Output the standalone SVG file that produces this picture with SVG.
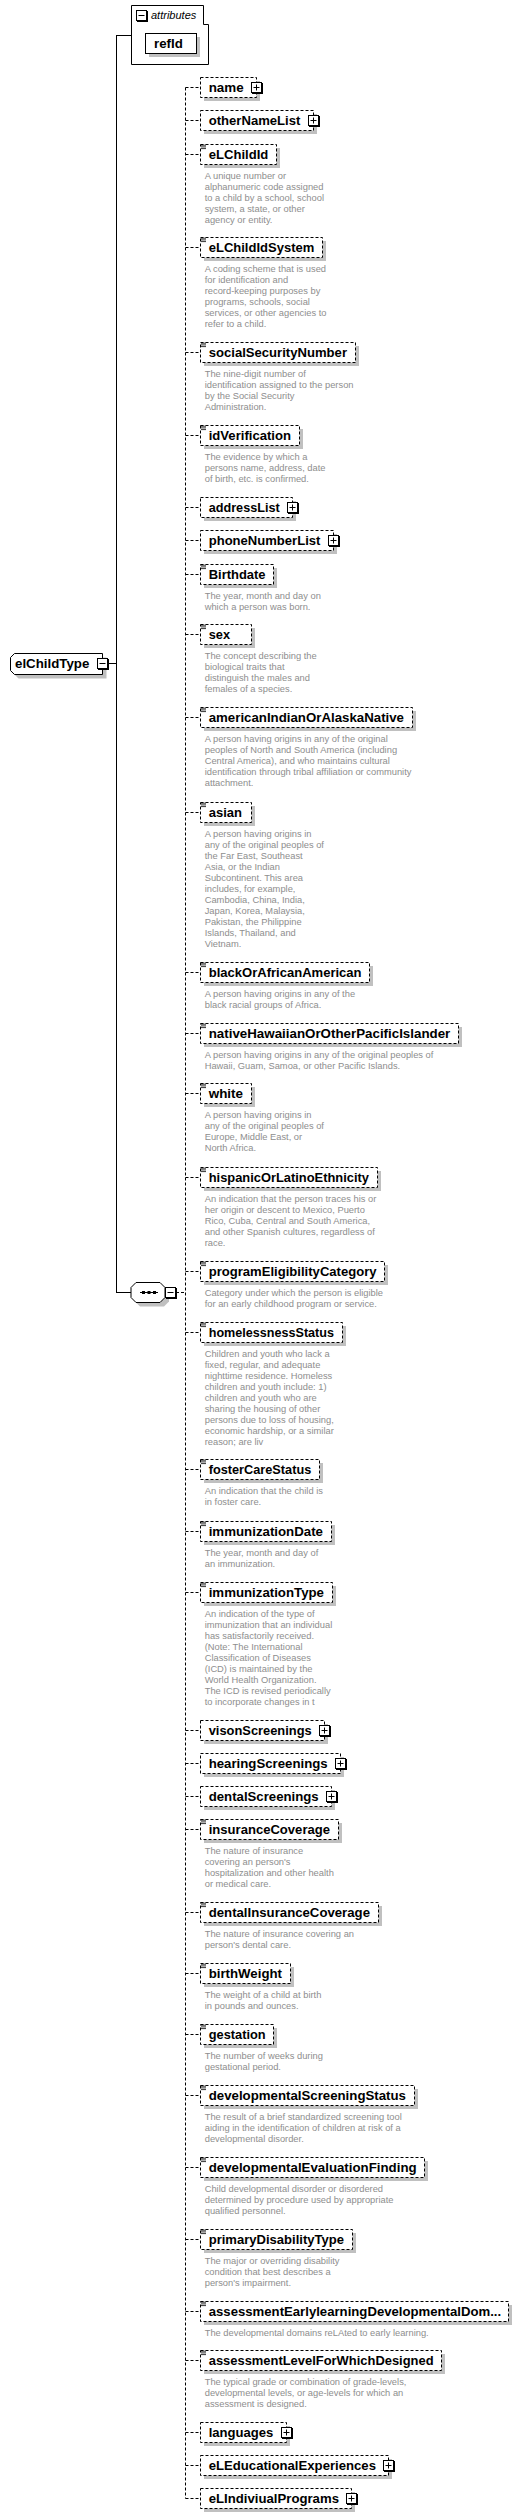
<svg xmlns="http://www.w3.org/2000/svg" width="524" height="2518" viewBox="0 0 524 2518">
<style>
.bx{fill:#fff;stroke:#000;stroke-width:1;stroke-dasharray:3,2}
.sb{fill:#fff;stroke:#000;stroke-width:1}
.sh{fill:#c0c0c0}
.lb{font-family:"Liberation Sans",Arial,sans-serif;font-weight:bold;font-size:13.3px;fill:#000}
.ds{font-family:"Liberation Sans",Arial,sans-serif;font-size:9.33px;fill:#8e8e8e}
.it{font-family:"Liberation Sans",Arial,sans-serif;font-style:italic;font-size:11px;fill:#000}
.cs{stroke:#000;stroke-width:1;fill:none}
.cd{stroke:#000;stroke-width:1;fill:none;stroke-dasharray:3,2}
</style>
<defs>
<g id="plus"><rect x="0.5" y="0.5" width="10" height="10" fill="#fff" stroke="#000"/><path d="M2.5 5.5h6M5.5 2.5v6M11.5 1v11M1 11.5h11" stroke="#000" fill="none"/></g>
<g id="minus"><rect x="0.5" y="0.5" width="10" height="10" fill="#fff" stroke="#000"/><path d="M2.5 5.5h6M11.5 1v11M1 11.5h11" stroke="#000" fill="none"/></g>
<g id="ann"><path d="M1 1.2h5M1 2.9h5M1 4.6h5" stroke="#000" stroke-width="0.8" fill="none"/></g>
</defs>

<g id="connectors">
<path class="cs" d="M116.5 35.5V1292.5M116 35.5h15M116 1292.5h15M108 663.5h8.5"/>
<path class="cd" d="M176 1292.5h9.5M185.5 87.5V2498.5"/>
<path class="cd" d="M185.5 87.5h15M185.5 120.5h15M185.5 154.5h15M185.5 247.5h15M185.5 352.5h15M185.5 435.5h15M185.5 507.5h15M185.5 540.5h15M185.5 574.5h15M185.5 634.5h15M185.5 717.5h15M185.5 812.5h15M185.5 972.5h15M185.5 1033.5h15M185.5 1093.5h15M185.5 1177.5h15M185.5 1271.5h15M185.5 1332.5h15M185.5 1469.5h15M185.5 1531.5h15M185.5 1592.5h15M185.5 1730.5h15M185.5 1763.5h15M185.5 1796.5h15M185.5 1829.5h15M185.5 1912.5h15M185.5 1973.5h15M185.5 2034.5h15M185.5 2095.5h15M185.5 2167.5h15M185.5 2239.5h15M185.5 2311.5h15M185.5 2360.5h15M185.5 2432.5h15M185.5 2465.5h15M185.5 2498.5h15"/>
</g>

<g id="elChildType">
<polygon class="sh" points="18.5,657.5 106.5,657.5 106.5,678.5 18.5,678.5 14.5,674.5 14.5,661.5"/>
<polygon class="sb" points="14.5,653.5 102.5,653.5 102.5,674.5 14.5,674.5 10.5,670.5 10.5,657.5"/>
<text class="lb" x="15" y="668" textLength="74.3" lengthAdjust="spacingAndGlyphs">elChildType</text>
<use href="#minus" x="97" y="658"/>
</g>

<g id="attributes">
<polygon class="sb" points="131.5,5.5 203.5,5.5 203.5,24.5 208.5,24.5 208.5,64.5 131.5,64.5"/>
<use href="#minus" x="136" y="10"/>
<text class="it" x="151" y="18.7">attributes</text>
</g>
<g id="refId">
<rect class="sh" x="149" y="37" width="51" height="20"/>
<rect class="sb" x="145.5" y="33.5" width="51" height="20"/>
<text class="lb" x="154" y="47.7">refId</text>
</g>

<g id="sequence">
<polygon class="sh" points="140,1286.5 164,1286.5 169,1291.5 169,1301.5 164,1306.5 140,1306.5 135,1301.5 135,1291.5"/>
<polygon class="sb" points="136,1282.5 160,1282.5 165,1287.5 165,1297.5 160,1302.5 136,1302.5 131,1297.5 131,1287.5"/>
<path d="M140 1292.5h18" stroke="#000"/>
<rect x="142" y="1291" width="3" height="3"/><rect x="147.5" y="1291" width="3" height="3"/><rect x="153" y="1291" width="3" height="3"/>
<use href="#minus" x="165" y="1287"/>
</g>

<g id="name"><rect class="sh" x="204" y="81" width="56" height="20"/><rect class="bx" x="200.5" y="77.5" width="56" height="20"/><text class="lb" x="208.7" y="91.8" textLength="35" lengthAdjust="spacingAndGlyphs">name</text><use href="#plus" x="251" y="82"/></g>
<g id="otherNameList"><rect class="sh" x="204" y="114" width="113" height="20"/><rect class="bx" x="200.5" y="110.5" width="113" height="20"/><text class="lb" x="208.7" y="124.8" textLength="91.7" lengthAdjust="spacingAndGlyphs">otherNameList</text><use href="#plus" x="308" y="115"/></g>

<g id="eLChildId"><rect class="sh" x="204" y="148" width="76" height="20"/><rect class="bx" x="200.5" y="144.5" width="76" height="20"/><use href="#ann" x="200" y="144"/><text class="lb" x="208.7" y="158.8" textLength="59.6" lengthAdjust="spacingAndGlyphs">eLChildId</text>
<text class="ds" x="204.7" y="179.3">A unique number or<tspan x="204.7" dy="11">alphanumeric code assigned</tspan><tspan x="204.7" dy="11">to a child by a school, school</tspan><tspan x="204.7" dy="11">system, a state, or other</tspan><tspan x="204.7" dy="11">agency or entity.</tspan></text></g>

<g id="eLChildIdSystem"><rect class="sh" x="204" y="241" width="122" height="20"/><rect class="bx" x="200.5" y="237.5" width="122" height="20"/><use href="#ann" x="200" y="237"/><text class="lb" x="208.7" y="251.8" textLength="105.6" lengthAdjust="spacingAndGlyphs">eLChildIdSystem</text>
<text class="ds" x="204.7" y="272.3">A coding scheme that is used<tspan x="204.7" dy="11">for identification and</tspan><tspan x="204.7" dy="11">record-keeping purposes by</tspan><tspan x="204.7" dy="11">programs, schools, social</tspan><tspan x="204.7" dy="11">services, or other agencies to</tspan><tspan x="204.7" dy="11">refer to a child.</tspan></text></g>

<g id="socialSecurityNumber"><rect class="sh" x="204" y="346" width="155" height="20"/><rect class="bx" x="200.5" y="342.5" width="155" height="20"/><use href="#ann" x="200" y="342"/><text class="lb" x="208.7" y="356.8" textLength="138.3" lengthAdjust="spacingAndGlyphs">socialSecurityNumber</text>
<text class="ds" x="204.7" y="377.3">The nine-digit number of<tspan x="204.7" dy="11">identification assigned to the person</tspan><tspan x="204.7" dy="11">by the Social Security</tspan><tspan x="204.7" dy="11">Administration.</tspan></text></g>

<g id="idVerification"><rect class="sh" x="204" y="429" width="99" height="20"/><rect class="bx" x="200.5" y="425.5" width="99" height="20"/><use href="#ann" x="200" y="425"/><text class="lb" x="208.7" y="439.8" textLength="82.3" lengthAdjust="spacingAndGlyphs">idVerification</text>
<text class="ds" x="204.7" y="460.3">The evidence by which a<tspan x="204.7" dy="11">persons name, address, date</tspan><tspan x="204.7" dy="11">of birth, etc. is confirmed.</tspan></text></g>

<g id="addressList"><rect class="sh" x="204" y="501" width="92" height="20"/><rect class="bx" x="200.5" y="497.5" width="92" height="20"/><text class="lb" x="208.7" y="511.8" textLength="71" lengthAdjust="spacingAndGlyphs">addressList</text><use href="#plus" x="287" y="502"/></g>
<g id="phoneNumberList"><rect class="sh" x="204" y="534" width="133" height="20"/><rect class="bx" x="200.5" y="530.5" width="133" height="20"/><text class="lb" x="208.7" y="544.8" textLength="111.7" lengthAdjust="spacingAndGlyphs">phoneNumberList</text><use href="#plus" x="328" y="535"/></g>

<g id="Birthdate"><rect class="sh" x="204" y="568" width="73" height="20"/><rect class="bx" x="200.5" y="564.5" width="73" height="20"/><use href="#ann" x="200" y="564"/><text class="lb" x="208.7" y="578.8" textLength="56.9" lengthAdjust="spacingAndGlyphs">Birthdate</text>
<text class="ds" x="204.7" y="599.3">The year, month and day on<tspan x="204.7" dy="11">which a person was born.</tspan></text></g>

<g id="sex"><rect class="sh" x="204" y="628" width="51" height="20"/><rect class="bx" x="200.5" y="624.5" width="51" height="20"/><use href="#ann" x="200" y="624"/><text class="lb" x="208.7" y="638.8" textLength="21.3" lengthAdjust="spacingAndGlyphs">sex</text>
<text class="ds" x="204.7" y="659.3">The concept describing the<tspan x="204.7" dy="11">biological traits that</tspan><tspan x="204.7" dy="11">distinguish the males and</tspan><tspan x="204.7" dy="11">females of a species.</tspan></text></g>

<g id="americanIndianOrAlaskaNative"><rect class="sh" x="204" y="711" width="212" height="20"/><rect class="bx" x="200.5" y="707.5" width="212" height="20"/><use href="#ann" x="200" y="707"/><text class="lb" x="208.7" y="721.8" textLength="195.3" lengthAdjust="spacingAndGlyphs">americanIndianOrAlaskaNative</text>
<text class="ds" x="204.7" y="742.3">A person having origins in any of the original<tspan x="204.7" dy="11">peoples of North and South America (including</tspan><tspan x="204.7" dy="11">Central America), and who maintains cultural</tspan><tspan x="204.7" dy="11">identification through tribal affiliation or community</tspan><tspan x="204.7" dy="11">attachment.</tspan></text></g>

<g id="asian"><rect class="sh" x="204" y="806" width="51" height="20"/><rect class="bx" x="200.5" y="802.5" width="51" height="20"/><use href="#ann" x="200" y="802"/><text class="lb" x="208.7" y="816.8" textLength="33.3" lengthAdjust="spacingAndGlyphs">asian</text>
<text class="ds" x="204.7" y="837.3">A person having origins in<tspan x="204.7" dy="11">any of the original peoples of</tspan><tspan x="204.7" dy="11">the Far East, Southeast</tspan><tspan x="204.7" dy="11">Asia, or the Indian</tspan><tspan x="204.7" dy="11">Subcontinent. This area</tspan><tspan x="204.7" dy="11">includes, for example,</tspan><tspan x="204.7" dy="11">Cambodia, China, India,</tspan><tspan x="204.7" dy="11">Japan, Korea, Malaysia,</tspan><tspan x="204.7" dy="11">Pakistan, the Philippine</tspan><tspan x="204.7" dy="11">Islands, Thailand, and</tspan><tspan x="204.7" dy="11">Vietnam.</tspan></text></g>

<g id="blackOrAfricanAmerican"><rect class="sh" x="204" y="966" width="169" height="20"/><rect class="bx" x="200.5" y="962.5" width="169" height="20"/><use href="#ann" x="200" y="962"/><text class="lb" x="208.7" y="976.8" textLength="152.9" lengthAdjust="spacingAndGlyphs">blackOrAfricanAmerican</text>
<text class="ds" x="204.7" y="997.3">A person having origins in any of the<tspan x="204.7" dy="11">black racial groups of Africa.</tspan></text></g>

<g id="nativeHawaiianOrOtherPacificIslander"><rect class="sh" x="204" y="1027" width="258" height="20"/><rect class="bx" x="200.5" y="1023.5" width="258" height="20"/><use href="#ann" x="200" y="1023"/><text class="lb" x="208.7" y="1037.8" textLength="241.6" lengthAdjust="spacingAndGlyphs">nativeHawaiianOrOtherPacificIslander</text>
<text class="ds" x="204.7" y="1058.3">A person having origins in any of the original peoples of<tspan x="204.7" dy="11">Hawaii, Guam, Samoa, or other Pacific Islands.</tspan></text></g>

<g id="white"><rect class="sh" x="204" y="1087" width="51" height="20"/><rect class="bx" x="200.5" y="1083.5" width="51" height="20"/><use href="#ann" x="200" y="1083"/><text class="lb" x="208.7" y="1097.8" textLength="34.3" lengthAdjust="spacingAndGlyphs">white</text>
<text class="ds" x="204.7" y="1118.3">A person having origins in<tspan x="204.7" dy="11">any of the original peoples of</tspan><tspan x="204.7" dy="11">Europe, Middle East, or</tspan><tspan x="204.7" dy="11">North Africa.</tspan></text></g>

<g id="hispanicOrLatinoEthnicity"><rect class="sh" x="204" y="1171" width="177" height="20"/><rect class="bx" x="200.5" y="1167.5" width="177" height="20"/><use href="#ann" x="200" y="1167"/><text class="lb" x="208.7" y="1181.8" textLength="160.3" lengthAdjust="spacingAndGlyphs">hispanicOrLatinoEthnicity</text>
<text class="ds" x="204.7" y="1202.3">An indication that the person traces his or<tspan x="204.7" dy="11">her origin or descent to Mexico, Puerto</tspan><tspan x="204.7" dy="11">Rico, Cuba, Central and South America,</tspan><tspan x="204.7" dy="11">and other Spanish cultures, regardless of</tspan><tspan x="204.7" dy="11">race.</tspan></text></g>

<g id="programEligibilityCategory"><rect class="sh" x="204" y="1265" width="184" height="20"/><rect class="bx" x="200.5" y="1261.5" width="184" height="20"/><use href="#ann" x="200" y="1261"/><text class="lb" x="208.7" y="1275.8" textLength="167.9" lengthAdjust="spacingAndGlyphs">programEligibilityCategory</text>
<text class="ds" x="204.7" y="1296.3">Category under which the person is eligible<tspan x="204.7" dy="11">for an early childhood program or service.</tspan></text></g>

<g id="homelessnessStatus"><rect class="sh" x="204" y="1326" width="142" height="20"/><rect class="bx" x="200.5" y="1322.5" width="142" height="20"/><use href="#ann" x="200" y="1322"/><text class="lb" x="208.7" y="1336.8" textLength="125.3" lengthAdjust="spacingAndGlyphs">homelessnessStatus</text>
<text class="ds" x="204.7" y="1357.3">Children and youth who lack a<tspan x="204.7" dy="11">fixed, regular, and adequate</tspan><tspan x="204.7" dy="11">nighttime residence. Homeless</tspan><tspan x="204.7" dy="11">children and youth include: 1)</tspan><tspan x="204.7" dy="11">children and youth who are</tspan><tspan x="204.7" dy="11">sharing the housing of other</tspan><tspan x="204.7" dy="11">persons due to loss of housing,</tspan><tspan x="204.7" dy="11">economic hardship, or a similar</tspan><tspan x="204.7" dy="11">reason; are liv</tspan></text></g>

<g id="fosterCareStatus"><rect class="sh" x="204" y="1463" width="119" height="20"/><rect class="bx" x="200.5" y="1459.5" width="119" height="20"/><use href="#ann" x="200" y="1459"/><text class="lb" x="208.7" y="1473.8" textLength="102.6" lengthAdjust="spacingAndGlyphs">fosterCareStatus</text>
<text class="ds" x="204.7" y="1494.3">An indication that the child is<tspan x="204.7" dy="11">in foster care.</tspan></text></g>

<g id="immunizationDate"><rect class="sh" x="204" y="1525" width="131" height="20"/><rect class="bx" x="200.5" y="1521.5" width="131" height="20"/><use href="#ann" x="200" y="1521"/><text class="lb" x="208.7" y="1535.8" textLength="114.3" lengthAdjust="spacingAndGlyphs">immunizationDate</text>
<text class="ds" x="204.7" y="1556.3">The year, month and day of<tspan x="204.7" dy="11">an immunization.</tspan></text></g>

<g id="immunizationType"><rect class="sh" x="204" y="1586" width="132" height="20"/><rect class="bx" x="200.5" y="1582.5" width="132" height="20"/><use href="#ann" x="200" y="1582"/><text class="lb" x="208.7" y="1596.8" textLength="115.3" lengthAdjust="spacingAndGlyphs">immunizationType</text>
<text class="ds" x="204.7" y="1617.3">An indication of the type of<tspan x="204.7" dy="11">immunization that an individual</tspan><tspan x="204.7" dy="11">has satisfactorily received.</tspan><tspan x="204.7" dy="11">(Note: The International</tspan><tspan x="204.7" dy="11">Classification of Diseases</tspan><tspan x="204.7" dy="11">(ICD) is maintained by the</tspan><tspan x="204.7" dy="11">World Health Organization.</tspan><tspan x="204.7" dy="11">The ICD is revised periodically</tspan><tspan x="204.7" dy="11">to incorporate changes in t</tspan></text></g>

<g id="visonScreenings"><rect class="sh" x="204" y="1724" width="124" height="20"/><rect class="bx" x="200.5" y="1720.5" width="124" height="20"/><text class="lb" x="208.7" y="1734.8" textLength="103" lengthAdjust="spacingAndGlyphs">visonScreenings</text><use href="#plus" x="319" y="1725"/></g>
<g id="hearingScreenings"><rect class="sh" x="204" y="1757" width="140" height="20"/><rect class="bx" x="200.5" y="1753.5" width="140" height="20"/><text class="lb" x="208.7" y="1767.8" textLength="119" lengthAdjust="spacingAndGlyphs">hearingScreenings</text><use href="#plus" x="335" y="1758"/></g>
<g id="dentalScreenings"><rect class="sh" x="204" y="1790" width="131" height="20"/><rect class="bx" x="200.5" y="1786.5" width="131" height="20"/><text class="lb" x="208.7" y="1800.8" textLength="110" lengthAdjust="spacingAndGlyphs">dentalScreenings</text><use href="#plus" x="326" y="1791"/></g>

<g id="insuranceCoverage"><rect class="sh" x="204" y="1823" width="138" height="20"/><rect class="bx" x="200.5" y="1819.5" width="138" height="20"/><use href="#ann" x="200" y="1819"/><text class="lb" x="208.7" y="1833.8" textLength="121.3" lengthAdjust="spacingAndGlyphs">insuranceCoverage</text>
<text class="ds" x="204.7" y="1854.3">The nature of insurance<tspan x="204.7" dy="11">covering an person's</tspan><tspan x="204.7" dy="11">hospitalization and other health</tspan><tspan x="204.7" dy="11">or medical care.</tspan></text></g>

<g id="dentalInsuranceCoverage"><rect class="sh" x="204" y="1906" width="178" height="20"/><rect class="bx" x="200.5" y="1902.5" width="178" height="20"/><use href="#ann" x="200" y="1902"/><text class="lb" x="208.7" y="1916.8" textLength="161.3" lengthAdjust="spacingAndGlyphs">dentalInsuranceCoverage</text>
<text class="ds" x="204.7" y="1937.3">The nature of insurance covering an<tspan x="204.7" dy="11">person's dental care.</tspan></text></g>

<g id="birthWeight"><rect class="sh" x="204" y="1967" width="90" height="20"/><rect class="bx" x="200.5" y="1963.5" width="90" height="20"/><use href="#ann" x="200" y="1963"/><text class="lb" x="208.7" y="1977.8" textLength="73.3" lengthAdjust="spacingAndGlyphs">birthWeight</text>
<text class="ds" x="204.7" y="1998.3">The weight of a child at birth<tspan x="204.7" dy="11">in pounds and ounces.</tspan></text></g>

<g id="gestation"><rect class="sh" x="204" y="2028" width="73" height="20"/><rect class="bx" x="200.5" y="2024.5" width="73" height="20"/><use href="#ann" x="200" y="2024"/><text class="lb" x="208.7" y="2038.8" textLength="56.9" lengthAdjust="spacingAndGlyphs">gestation</text>
<text class="ds" x="204.7" y="2059.3">The number of weeks during<tspan x="204.7" dy="11">gestational period.</tspan></text></g>

<g id="developmentalScreeningStatus"><rect class="sh" x="204" y="2089" width="214" height="20"/><rect class="bx" x="200.5" y="2085.5" width="214" height="20"/><use href="#ann" x="200" y="2085"/><text class="lb" x="208.7" y="2099.8" textLength="197.3" lengthAdjust="spacingAndGlyphs">developmentalScreeningStatus</text>
<text class="ds" x="204.7" y="2120.3">The result of a brief standardized screening tool<tspan x="204.7" dy="11">aiding in the identification of children at risk of a</tspan><tspan x="204.7" dy="11">developmental disorder.</tspan></text></g>

<g id="developmentalEvaluationFinding"><rect class="sh" x="204" y="2161" width="224" height="20"/><rect class="bx" x="200.5" y="2157.5" width="224" height="20"/><use href="#ann" x="200" y="2157"/><text class="lb" x="208.7" y="2171.8" textLength="207.9" lengthAdjust="spacingAndGlyphs">developmentalEvaluationFinding</text>
<text class="ds" x="204.7" y="2192.3">Child developmental disorder or disordered<tspan x="204.7" dy="11">determined by procedure used by appropriate</tspan><tspan x="204.7" dy="11">qualified personnel.</tspan></text></g>

<g id="primaryDisabilityType"><rect class="sh" x="204" y="2233" width="152" height="20"/><rect class="bx" x="200.5" y="2229.5" width="152" height="20"/><use href="#ann" x="200" y="2229"/><text class="lb" x="208.7" y="2243.8" textLength="135.3" lengthAdjust="spacingAndGlyphs">primaryDisabilityType</text>
<text class="ds" x="204.7" y="2264.3">The major or overriding disability<tspan x="204.7" dy="11">condition that best describes a</tspan><tspan x="204.7" dy="11">person's impairment.</tspan></text></g>

<g id="assessmentEarlylearningDevelopmentalDomain"><rect class="sh" x="204" y="2305" width="308" height="20"/><rect class="bx" x="200.5" y="2301.5" width="308" height="20"/><use href="#ann" x="200" y="2301"/><text class="lb" x="208.7" y="2315.8" textLength="292.5" lengthAdjust="spacingAndGlyphs">assessmentEarlylearningDevelopmentalDom...</text>
<text class="ds" x="204.7" y="2336.3">The developmental domains reLAted to early learning.</text></g>

<g id="assessmentLevelForWhichDesigned"><rect class="sh" x="204" y="2354" width="241" height="20"/><rect class="bx" x="200.5" y="2350.5" width="241" height="20"/><use href="#ann" x="200" y="2350"/><text class="lb" x="208.7" y="2364.8" textLength="224.9" lengthAdjust="spacingAndGlyphs">assessmentLevelForWhichDesigned</text>
<text class="ds" x="204.7" y="2385.3">The typical grade or combination of grade-levels,<tspan x="204.7" dy="11">developmental levels, or age-levels for which an</tspan><tspan x="204.7" dy="11">assessment is designed.</tspan></text></g>

<g id="languages"><rect class="sh" x="204" y="2426" width="86" height="20"/><rect class="bx" x="200.5" y="2422.5" width="86" height="20"/><text class="lb" x="208.7" y="2436.8" textLength="64.7" lengthAdjust="spacingAndGlyphs">languages</text><use href="#plus" x="281" y="2427"/></g>
<g id="eLEducationalExperiences"><rect class="sh" x="204" y="2459" width="188" height="20"/><rect class="bx" x="200.5" y="2455.5" width="188" height="20"/><text class="lb" x="208.7" y="2469.8" textLength="167.3" lengthAdjust="spacingAndGlyphs">eLEducationalExperiences</text><use href="#plus" x="383" y="2460"/></g>
<g id="eLIndiviualPrograms"><rect class="sh" x="204" y="2492" width="151" height="20"/><rect class="bx" x="200.5" y="2488.5" width="151" height="20"/><text class="lb" x="208.7" y="2502.8" textLength="130.3" lengthAdjust="spacingAndGlyphs">eLIndiviualPrograms</text><use href="#plus" x="346" y="2493"/></g>
</svg>
